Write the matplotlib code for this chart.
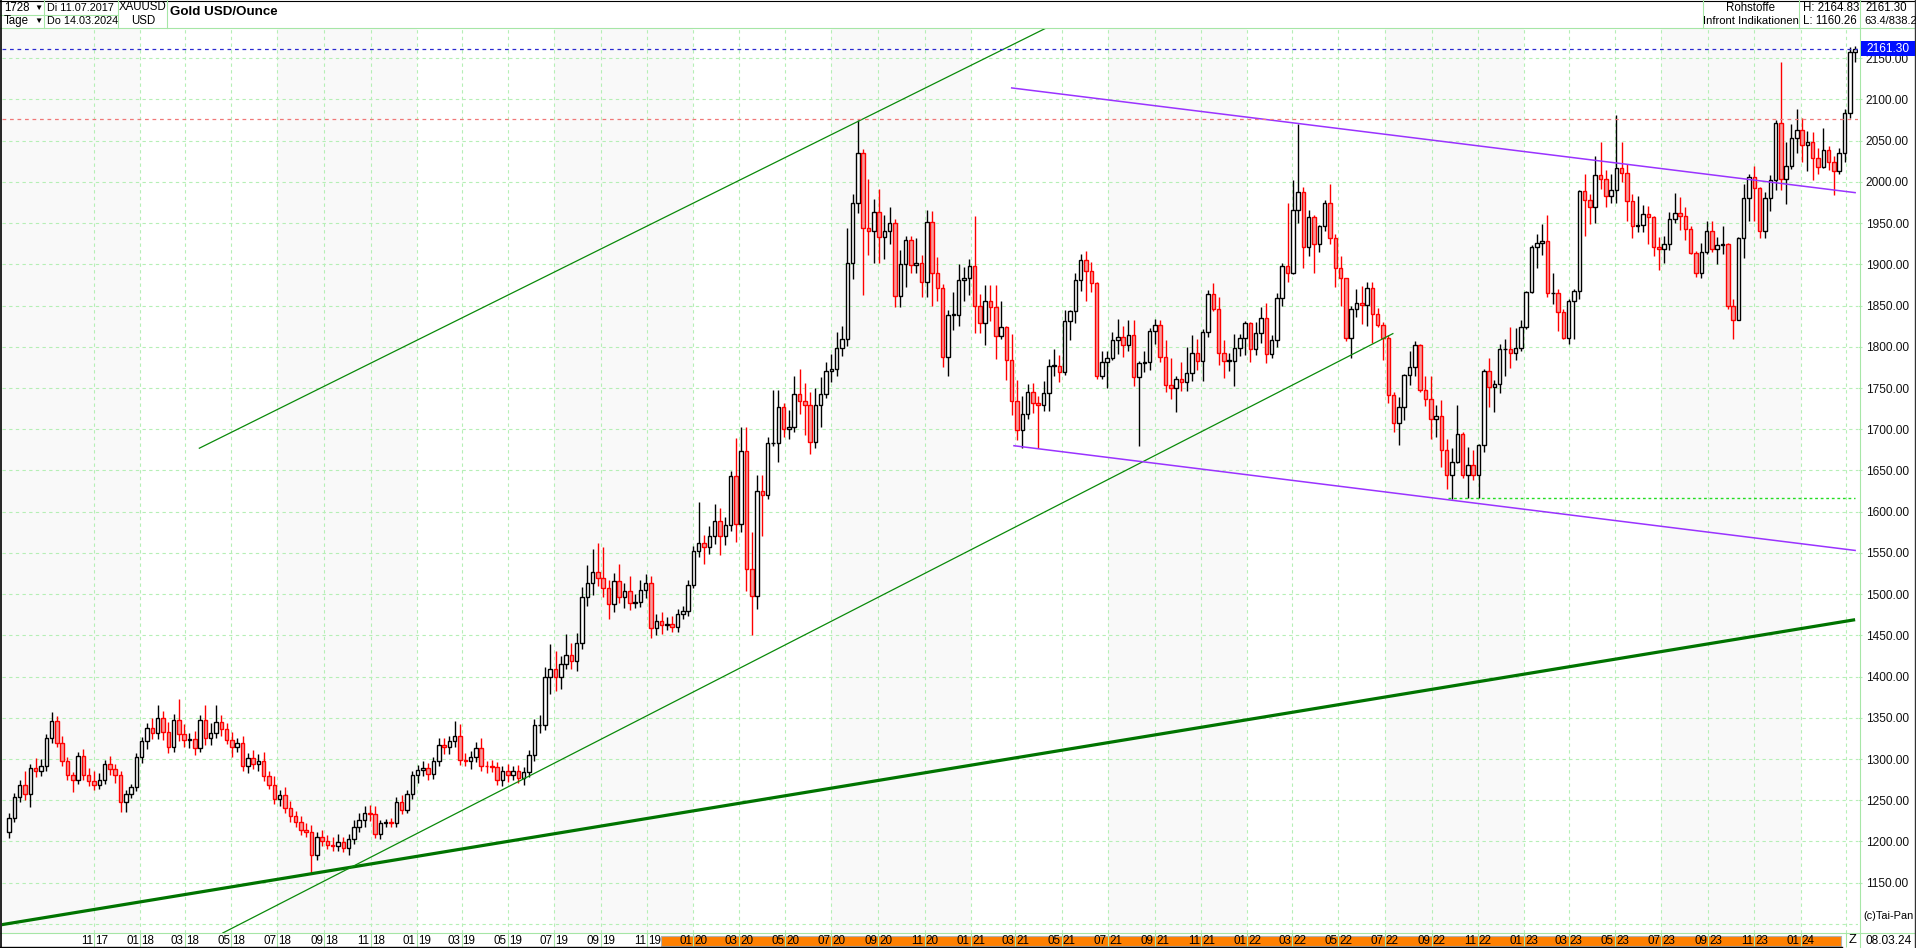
# -*- coding: utf-8 -*-
"""
Gold USD/Ounce - weekly candles with trend lines (Tai-Pan style)
"""

import numpy as np
import pandas as pd
import matplotlib.pyplot as plt
import matplotlib.dates as mdates
from matplotlib.lines import Line2D
from matplotlib.patches import Rectangle

plt.rcParams['font.family'] = ['Liberation Sans', 'DejaVu Sans']

#%% data ---------------------------------------------------------------------

# weekly closes (week starting mondays)
first_open = 1212.0
close_2017 = [1228, 1254, 1269, 1258, 1289, 1285, 1291, 1325, 1346, 1320, 1297, 1280, 1275,
              1304, 1280, 1273, 1269, 1275, 1294, 1288, 1280, 1248, 1257, 1266, 1303]
close_2018 = [1322, 1338, 1332, 1350, 1333, 1315, 1347, 1330, 1323, 1324, 1313, 1347, 1325,
              1332, 1345, 1336, 1323, 1315, 1320, 1291, 1301, 1294, 1298, 1279, 1269, 1251,
              1256, 1241, 1231, 1223, 1214, 1212, 1184, 1206, 1200, 1196, 1194, 1199, 1192,
              1203, 1218, 1226, 1235, 1233, 1209, 1222, 1223, 1222, 1248, 1238, 1257, 1281]
close_2019 = [1287, 1289, 1282, 1298, 1317, 1314, 1322, 1328, 1299, 1298, 1302, 1313, 1292,
              1291, 1290, 1275, 1286, 1280, 1285, 1277, 1284, 1305, 1341, 1341, 1399, 1409,
              1399, 1415, 1426, 1419, 1441, 1497, 1513, 1527, 1520, 1507, 1488, 1516, 1497,
              1504, 1489, 1490, 1505, 1514, 1459, 1468, 1462, 1464, 1460, 1476, 1479, 1511, 1552]
close_2020 = [1562, 1557, 1571, 1589, 1570, 1584, 1643, 1585, 1674, 1530, 1498, 1625, 1620,
              1683, 1683, 1727, 1700, 1703, 1743, 1734, 1730, 1685, 1730, 1743, 1771, 1773,
              1798, 1810, 1902, 1975, 2035, 1944, 1940, 1964, 1933, 1940, 1950, 1862, 1900,
              1930, 1899, 1902, 1879, 1951, 1889, 1871, 1788, 1839, 1839, 1881, 1883, 1898]
close_2021 = [1850, 1829, 1856, 1848, 1813, 1824, 1784, 1734, 1699, 1719, 1745, 1732, 1729,
              1744, 1777, 1777, 1769, 1831, 1843, 1881, 1905, 1892, 1877, 1764, 1781, 1787,
              1808, 1812, 1802, 1814, 1763, 1780, 1781, 1819, 1827, 1788, 1754, 1750, 1761,
              1757, 1768, 1793, 1783, 1818, 1864, 1846, 1792, 1783, 1783, 1798, 1811, 1829]
close_2022 = [1797, 1817, 1835, 1791, 1808, 1859, 1898, 1889, 1966, 1988, 1921, 1958, 1925,
              1946, 1975, 1932, 1896, 1883, 1811, 1846, 1853, 1851, 1871, 1840, 1826, 1811,
              1742, 1707, 1727, 1766, 1775, 1802, 1747, 1737, 1712, 1716, 1675, 1644, 1660,
              1694, 1644, 1657, 1644, 1681, 1771, 1751, 1755, 1797, 1797, 1792, 1798, 1824]
close_2023 = [1866, 1921, 1926, 1928, 1865, 1865, 1842, 1811, 1856, 1868, 1989, 1978, 1969,
              2008, 2004, 1983, 1990, 2017, 2011, 1977, 1946, 1948, 1961, 1958, 1921, 1919,
              1925, 1955, 1962, 1959, 1943, 1914, 1889, 1915, 1940, 1919, 1924, 1925, 1849,
              1833, 1932, 1981, 2006, 1993, 1940, 1981, 2002, 2072, 2004, 2019, 2053, 2063]
close_2024 = [2045, 2049, 2029, 2018, 2039, 2024, 2013, 2035, 2083, 2158, 2161.30]

# upper / lower shadows (above max(open, close), below min(open, close))
up_2017 = [6, 5, 5, 16, 5, 12, 9, 5, 11, 6, 8, 5, 4, 5, 8, 9, 12, 8, 5, 10, 6, 6, 5, 4, 4]
dn_2017 = [8, 5, 6, 8, 16, 7, 6, 6, 6, 5, 6, 6, 15, 5, 5, 6, 6, 5, 5, 7, 9, 12, 12, 4, 5]
up_2018 = [5, 6, 12, 16, 8, 12, 8, 26, 12, 8, 10, 6, 18, 12, 20, 8, 8, 10, 6, 8, 6, 10, 8, 10, 6, 10,
           6, 10, 8, 6, 8, 8, 8, 6, 8, 8, 10, 10, 6, 6, 8, 8, 8, 9, 10, 4, 4, 5, 6, 8, 6, 4]
dn_2018 = [8, 10, 8, 8, 10, 8, 6, 8, 8, 10, 8, 5, 8, 8, 6, 8, 5, 12, 6, 5, 8, 6, 8, 6, 5, 6,
           8, 6, 8, 6, 6, 6, 24, 6, 5, 5, 6, 6, 5, 8, 6, 6, 8, 8, 5, 6, 5, 5, 5, 5, 4, 6]
up_2019 = [6, 8, 6, 5, 8, 8, 6, 18, 14, 8, 8, 8, 12, 6, 8, 6, 6, 8, 6, 8, 6, 6, 8, 12, 12, 30, 22,
           10, 26, 15, 12, 12, 22, 28, 35, 37, 10, 10, 20, 10, 18, 10, 12, 10, 8, 8, 10, 8, 10,
           6, 6, 6, 6]
dn_2019 = [10, 8, 8, 6, 6, 8, 8, 8, 6, 6, 10, 6, 6, 8, 6, 6, 8, 8, 6, 6, 8, 6, 8, 10, 6, 20, 16,
           14, 6, 10, 12, 8, 12, 14, 10, 10, 18, 10, 8, 14, 8, 6, 6, 10, 12, 8, 10, 6, 6, 6, 6,
           6, 4]
up_2020 = [50, 10, 12, 20, 15, 10, 6, 46, 29, 29, 45, 20, 20, 8, 64, 20, 5, 20, 22, 30, 22, 15,
           20, 20, 10, 18, 20, 15, 42, 10, 40, 5, 60, 15, 28, 20, 20, 5, 17, 5, 4, 30, 9, 15,
           14, 20, 5, 6, 28, 20, 14, 8]
dn_2020 = [7, 21, 8, 10, 22, 10, 8, 22, 10, 26, 47, 16, 50, 5, 3, 23, 10, 12, 6, 16, 37, 15,
           8, 27, 5, 14, 9, 9, 9, 20, 13, 81, 29, 38, 31, 27, 15, 14, 14, 27, 9, 9, 19, 19,
           39, 16, 13, 23, 19, 14, 26, 20]
up_2021 = [61, 14, 19, 19, 27, 31, 1, 31, 26, 21, 10, 11, 8, 14, 8, 20, 13, 14, 2, 9, 8, 11,
           11, 2, 14, 8, 10, 22, 13, 18, 18, 3, 14, 4, 7, 5, 20, 33, 3, 20, 32, 21, 17, 3, 5,
           13, 14, 16, 10, 17, 4, 2]
dn_2021 = [33, 12, 27, 17, 28, 3, 24, 17, 12, 22, 6, 12, 52, 7, 22, 13, 12, 3, 23, 14, 13, 36,
           11, 3, 3, 31, 3, 17, 14, 7, 10, 83, 10, 9, 16, 6, 9, 13, 29, 11, 11, 9, 11, 24, 6,
           2, 14, 21, 12, 30, 9, 21]
up_2022 = [1, 13, 13, 18, 6, 6, 4, 76, 36, 82, 6, 8, 2, 2, 3, 23, 5, 14, 1, 3, 17, 21, 8, 8,
           7, 4, 3, 3, 12, 1, 20, 5, 1, 18, 28, 13, 19, 13, 17, 36, 3, 21, 18, 1, 2, 16, 5, 7,
           13, 27, 25, 9]
dn_2022 = [15, 7, 12, 11, 5, 8, 9, 11, 1, 16, 26, 11, 35, 10, 6, 7, 24, 33, 4, 24, 10, 23, 26,
           35, 2, 27, 10, 10, 26, 16, 12, 11, 2, 9, 24, 21, 21, 17, 29, 1, 3, 27, 6, 28, 8, 24,
           30, 11, 32, 18, 8, 3]
up_2023 = [2, 2, 11, 21, 32, 25, 5, 4, 2, 2, 1, 20, 7, 24, 41, 11, 19, 64, 31, 11, 8, 35, 11,
           10, 1, 12, 10, 8, 25, 20, 11, 4, 2, 11, 13, 13, 9, 22, 1, 9, 1, 16, 3, 13, 1, 7, 6,
           3, 74, 29, 17, 25]
dn_2023 = [2, 1, 25, 15, 4, 13, 23, 2, 7, 46, 10, 44, 20, 19, 12, 14, 8, 15, 11, 25, 14, 7, 9,
           33, 11, 26, 17, 8, 5, 17, 13, 2, 4, 5, 2, 4, 18, 11, 3, 23, 1, 24, 28, 40, 8, 8, 16,
           12, 14, 31, 3, 18]
up_2024 = [15, 13, 11, 12, 26, 5, 7, 6, 5, 6, 3.53]
dn_2024 = [21, 32, 27, 8, 1, 9, 29, 4, 11, 5, 12]

# trend lines : (dates, prices)
support_long = (['2017-06-30', '2024-03-13'], [1098.7, 1469.0])
channel_top = (['2018-03-20', '2021-04-20'], [1677, 2191])
channel_low = (['2018-04-20', '2022-07-12'], [1089, 1816])
purple_top = (['2021-02-24', '2024-03-13'], [2114, 1987])
purple_low = (['2021-02-27', '2024-03-13'], [1680, 1553])
level_low = (['2022-09-23', '2024-03-13'], [1616.5, 1616.5])
level_red = 2076
last_price = 2161.30

y_ticks = list(range(1150, 2151, 50))
y_grid = list(range(1100, 2151, 50))

#%% manip --------------------------------------------------------------------

close = np.array(close_2017 + close_2018 + close_2019 + close_2020 + close_2021
                 + close_2022 + close_2023 + close_2024, dtype=float)
up = np.array(up_2017 + up_2018 + up_2019 + up_2020 + up_2021 + up_2022 + up_2023 + up_2024)
dn = np.array(dn_2017 + dn_2018 + dn_2019 + dn_2020 + dn_2021 + dn_2022 + dn_2023 + dn_2024)
n = len(close)
opn = np.r_[first_open, close[:-1]]
hi = np.maximum(opn, close) + up
lo = np.minimum(opn, close) - dn
x = mdates.date2num(pd.date_range('2017-07-12', periods=n, freq='7D'))
rising = close >= opn

ref = mdates.date2num(pd.Timestamp('2017-11-01'))
pxday = 0.7578  # px per day on the reference
xmin, xmax = ref - 92 / pxday, ref + 1764 / pxday

months = pd.date_range('2017-11-01', '2024-03-01', freq='2MS')
mx = mdates.date2num(months)

#%% plot ---------------------------------------------------------------------

W, H = 1916, 948
fig = plt.figure(figsize=(W / 100, H / 100), dpi=100)
fig.patch.set_facecolor('white')

def fx(p):
    return p / W

def fy(p):
    return 1 - p / H

grid_c = '#b6efb6'
frame_c = '#a6e6a6'

ax = fig.add_axes([fx(2), fy(933), (1858 - 2) / W, (933 - 28) / H])
ax.set_xlim(xmin, xmax)
ax.set_ylim(1088.95, 2186.7)
for s in ax.spines.values():
    s.set_visible(False)

# ---- shading jul-dec
for yr in range(2017, 2024):
    ax.axvspan(mdates.date2num(pd.Timestamp(f'{yr}-07-01')),
               mdates.date2num(pd.Timestamp(f'{yr + 1}-01-01')),
               color='#f9f9f9', zorder=0, lw=0)

# ---- grid
for g in y_grid:
    ax.axhline(g, color=grid_c, lw=0.8, dashes=(3, 3), zorder=1)
for m in mx:
    ax.axvline(m, color=grid_c, lw=0.8, dashes=(3, 3), zorder=1)

# ---- candles
wick_c = np.where(rising, 'black', 'red')
ax.vlines(x, lo, hi, colors=wick_c, lw=1.0, zorder=3)
body_lo = np.minimum(opn, close)
body_h = np.maximum(np.abs(close - opn), 0.8)
ax.bar(x, body_h, bottom=body_lo, width=4.6,
       color=np.where(rising, 'white', '#f79a9a'),
       edgecolor=wick_c, linewidth=1.0, zorder=4)

# ---- trend lines
def tline(spec, **kw):
    d, p = spec
    ax.plot(mdates.date2num(pd.to_datetime(d)), p, zorder=5, **kw)

tline(support_long, color='#007400', lw=2.3, solid_capstyle='butt')
tline(channel_top, color='#0a8a0a', lw=0.9)
tline(channel_low, color='#0a8a0a', lw=0.9)
tline(purple_top, color='#9a33ff', lw=1.1)
tline(purple_low, color='#9a33ff', lw=1.1)
tline(level_low, color='#22dd22', lw=1.0, dashes=(2, 2))
ax.axhline(level_red, color='#f07878', lw=0.9, dashes=(3, 3), zorder=5)
ax.axhline(last_price, color='#2a2ad0', lw=0.9, dashes=(3, 3), zorder=5)

# ---- right price scale
ax.yaxis.tick_right()
ax.set_yticks(y_ticks)
ax.set_yticklabels([f'{v:.2f}' for v in y_ticks])
ax.tick_params(axis='y', length=3, color=grid_c, pad=2.5, labelsize=8.6, labelcolor='#111111')
ax.set_xticks([])

# ---- bottom strip with month labels
axb = fig.add_axes([fx(2), 0, (1858 - 2) / W, 15 / H])
axb.set_xlim(xmin, xmax)
axb.set_ylim(0, 1)
axb.axis('off')
axb.add_patch(Rectangle((mdates.date2num(pd.Timestamp('2019-11-19')), 0.13),
                        mdates.date2num(pd.Timestamp('2024-02-24'))
                        - mdates.date2num(pd.Timestamp('2019-11-19')), 0.67,
                        facecolor='#ff8000', edgecolor='#b0b0b0', lw=0.8, zorder=1))
axb.vlines(mx, 0.07, 1, color=frame_c, lw=0.8, zorder=2)
for m, d in zip(mx, months):
    if d >= pd.Timestamp('2024-03-01'):
        continue
    axb.annotate(d.strftime('%m'), (m, 0.47), xytext=(-0.8, 0), textcoords='offset points',
                 ha='right', va='center', fontsize=8.4, zorder=3)
    axb.annotate(d.strftime('%y'), (m, 0.47), xytext=(0.8, 0), textcoords='offset points',
                 ha='left', va='center', fontsize=8.4, zorder=3)

# ---- frame / header lines (figure pixels)
def hline(y, x0, x1, c=frame_c, lw=0.8):
    fig.add_artist(Line2D([fx(x0), fx(x1)], [fy(y), fy(y)], color=c, lw=lw,
                          transform=fig.transFigure))

def vline(xp, y0, y1, c=frame_c, lw=0.8):
    fig.add_artist(Line2D([fx(xp), fx(xp)], [fy(y0), fy(y1)], color=c, lw=lw,
                          transform=fig.transFigure))

hline(0.5, 0, W, c='black', lw=0.8)
hline(27.5, 0, W)
hline(14.5, 0, 118)
hline(933, 0, W)
hline(947.3, 0, 1842, c='black', lw=1.0)
vline(0.6, 0, H, c='black', lw=1.2)
vline(W - 1, 0, H, c='#333333', lw=1.0)
for xp in (44, 118, 167, 1702.7, 1799):
    vline(xp, 0, 27.5)
vline(1860, 0, H)

def ftext(xp, yp, s, **kw):
    kw.setdefault('fontsize', 8.3)
    kw.setdefault('va', 'center')
    fig.text(fx(xp), fy(yp), s, **kw)

# header left
ftext(4, 8, '1728')
ftext(34, 8, '▼', fontsize=6)
ftext(4, 21, 'Tage')
ftext(34, 21, '▼', fontsize=6)
ftext(47, 8, 'Di 11.07.2017', fontsize=7.8)
ftext(47, 21, 'Do 14.03.2024', fontsize=7.8)
ftext(143, 7, 'XAUUSD', ha='center')
ftext(143, 21, 'USD', ha='center')
ftext(170, 12, 'Gold USD/Ounce', fontsize=9.6, fontweight='bold')

# header right
ftext(1750.5, 8, 'Rohstoffe', ha='center')
ftext(1750.5, 21, 'Infront Indikationen', ha='center', fontsize=8.1)
ftext(1803, 8, 'H: 2164.83')
ftext(1803, 21, 'L: 1160.26')
ftext(1865, 8, '2161.30')
ftext(1864, 21, '63.4/838.2', fontsize=8.0)

# last price box
fig.add_artist(Rectangle((fx(1861), fy(56)), fx(54), 15 / H, transform=fig.transFigure,
                         facecolor='#0010ff', edgecolor='none', zorder=5))
ftext(1866, 48.5, '2161.30', color='white', fontsize=8.6, zorder=6)

# bottom right
ftext(1863, 916, '(c)Tai-Pan', fontsize=7.9)
ftext(1866, 941, '08.03.24', fontsize=8.6)
ftext(1849, 940, 'Z', fontsize=9.4)

plt.savefig('out.png', dpi=100)
